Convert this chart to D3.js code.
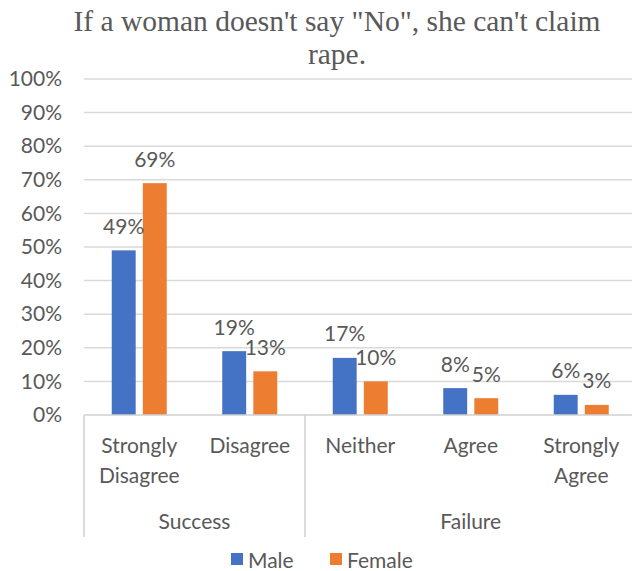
<!DOCTYPE html>
<html>
<head>
<meta charset="utf-8">
<script src="https://cdn.jsdelivr.net/npm/d3@7"></script>
<style>
  html, body { margin: 0; padding: 0; background: #fff; }
  svg { display: block; }
</style>
</head>
<body>
<svg id="chart" width="632" height="571"></svg>
<script>
// Survey responses by gender
const categories = ["Strongly Disagree", "Disagree", "Neither", "Agree", "Strongly Agree"];
const categoryLines = [["Strongly", "Disagree"], ["Disagree"], ["Neither"], ["Agree"], ["Strongly", "Agree"]];
const groups = [
  { name: "Success", members: ["Strongly Disagree", "Disagree"] },
  { name: "Failure", members: ["Neither", "Agree", "Strongly Agree"] }
];
const seriesNames = ["Male", "Female"];
const maleValues = [0.49, 0.19, 0.17, 0.08, 0.06];
const femaleValues = [0.69, 0.13, 0.10, 0.05, 0.03];
const yTicks = [0, 0.1, 0.2, 0.3, 0.4, 0.5, 0.6, 0.7, 0.8, 0.9, 1.0];
const titleLines = ["If a woman doesn't say \"No\", she can't claim", "rape."];

const colors = { Male: "#4472C4", Female: "#ED7D31" };
const textColor = "#595959";
const sansFont = "Lato, 'Open Sans', sans-serif";
const sansSize = "21px";

const svg = d3.select("#chart");
const W = 632;

const plot = { left: 84, right: 636.5, top: 79, bottom: 415 };

const x0 = d3.scaleBand().domain(categories).range([plot.left, plot.right]).padding(0);
const x1 = d3.scaleBand().domain(seriesNames)
  .range([x0.bandwidth() / 2 - 27.5, x0.bandwidth() / 2 + 27.5])
  .paddingInner(0.23);
const y = d3.scaleLinear().domain([0, 1]).range([plot.bottom, plot.top]);

const rows = categories.map((c, i) => ({ category: c, Male: maleValues[i], Female: femaleValues[i] }));

// Title
svg.append("g").selectAll("text")
  .data(titleLines)
  .join("text")
  .attr("x", 337)
  .attr("y", (d, i) => 31 + i * 33)
  .attr("text-anchor", "middle")
  .attr("fill", textColor)
  .style("font-family", "'Liberation Serif', 'Times New Roman', serif")
  .style("font-size", "29.5px")
  .text(d => d);

// Horizontal gridlines
svg.append("g")
  .selectAll("line")
  .data(yTicks.filter(t => t > 0))
  .join("line")
  .attr("x1", plot.left)
  .attr("x2", W)
  .attr("y1", d => y(d))
  .attr("y2", d => y(d))
  .attr("stroke", "#d9d9d9")
  .attr("stroke-width", 1.5);

// Y axis labels
const yAxis = d3.axisLeft(y).tickValues(yTicks).tickFormat(d3.format(".0%")).tickSize(0).tickPadding(0);
const yAxisG = svg.append("g").attr("transform", `translate(${62},0)`).call(yAxis);
yAxisG.select(".domain").remove();
yAxisG.selectAll("text")
  .attr("fill", textColor)
  .style("font-family", sansFont)
  .style("font-size", sansSize);

// Bars
const barGroups = svg.append("g")
  .selectAll("g")
  .data(rows)
  .join("g")
  .attr("transform", d => `translate(${x0(d.category)},0)`);

barGroups.selectAll("rect")
  .data(d => seriesNames.map(s => ({ series: s, value: d[s] })))
  .join("rect")
  .attr("x", d => x1(d.series))
  .attr("width", x1.bandwidth())
  .attr("y", d => y(d.value))
  .attr("height", d => y(0) - y(d.value))
  .attr("fill", d => colors[d.series]);

// Data labels
barGroups.selectAll("text.value")
  .data(d => seriesNames.map(s => ({ series: s, value: d[s] })))
  .join("text")
  .attr("class", "value")
  .attr("x", d => x1(d.series) + x1.bandwidth() / 2)
  .attr("y", d => y(d.value) - 25)
  .attr("text-anchor", "middle")
  .attr("dominant-baseline", "central")
  .attr("fill", textColor)
  .style("font-family", sansFont)
  .style("font-size", sansSize)
  .text(d => d3.format(".0%")(d.value));

// Category axis line
svg.append("line")
  .attr("x1", plot.left).attr("x2", W)
  .attr("y1", y(0)).attr("y2", y(0))
  .attr("stroke", "#d0d0d0").attr("stroke-width", 1.5);

// Group divider lines
const groupEdges = [plot.left].concat(groups.map(g => x0(g.members[g.members.length - 1]) + x0.bandwidth()));
svg.append("g").selectAll("line")
  .data(groupEdges)
  .join("line")
  .attr("x1", d => d).attr("x2", d => d)
  .attr("y1", y(0)).attr("y2", 537)
  .attr("stroke", "#d0d0d0").attr("stroke-width", 1.5);

// Category labels
svg.append("g").selectAll("text")
  .data(categories)
  .join("text")
  .attr("x", d => x0(d) + x0.bandwidth() / 2)
  .attr("y", 453)
  .attr("text-anchor", "middle")
  .attr("fill", textColor)
  .style("font-family", sansFont)
  .style("font-size", sansSize)
  .each(function (d, i) {
    const t = d3.select(this);
    categoryLines[i].forEach((line, j) => {
      t.append("tspan")
        .attr("x", x0(d) + x0.bandwidth() / 2)
        .attr("dy", j === 0 ? 0 : 30)
        .text(line);
    });
  });

// Group labels
svg.append("g").selectAll("text")
  .data(groups)
  .join("text")
  .attr("x", g => (x0(g.members[0]) + x0(g.members[g.members.length - 1]) + x0.bandwidth()) / 2)
  .attr("y", 529)
  .attr("text-anchor", "middle")
  .attr("fill", textColor)
  .style("font-family", sansFont)
  .style("font-size", sansSize)
  .text(g => g.name);

// Legend
const legendItems = [
  { name: "Male", sx: 231, tx: 248 },
  { name: "Female", sx: 330, tx: 347 }
];
const legend = svg.append("g");
legend.selectAll("rect")
  .data(legendItems)
  .join("rect")
  .attr("x", d => d.sx).attr("y", 553)
  .attr("width", 12).attr("height", 12)
  .attr("fill", d => colors[d.name]);
legend.selectAll("text")
  .data(legendItems)
  .join("text")
  .attr("x", d => d.tx).attr("y", 559)
  .attr("dominant-baseline", "central")
  .attr("fill", textColor)
  .style("font-family", sansFont)
  .style("font-size", sansSize)
  .text(d => d.name);
</script>
</body>
</html>
